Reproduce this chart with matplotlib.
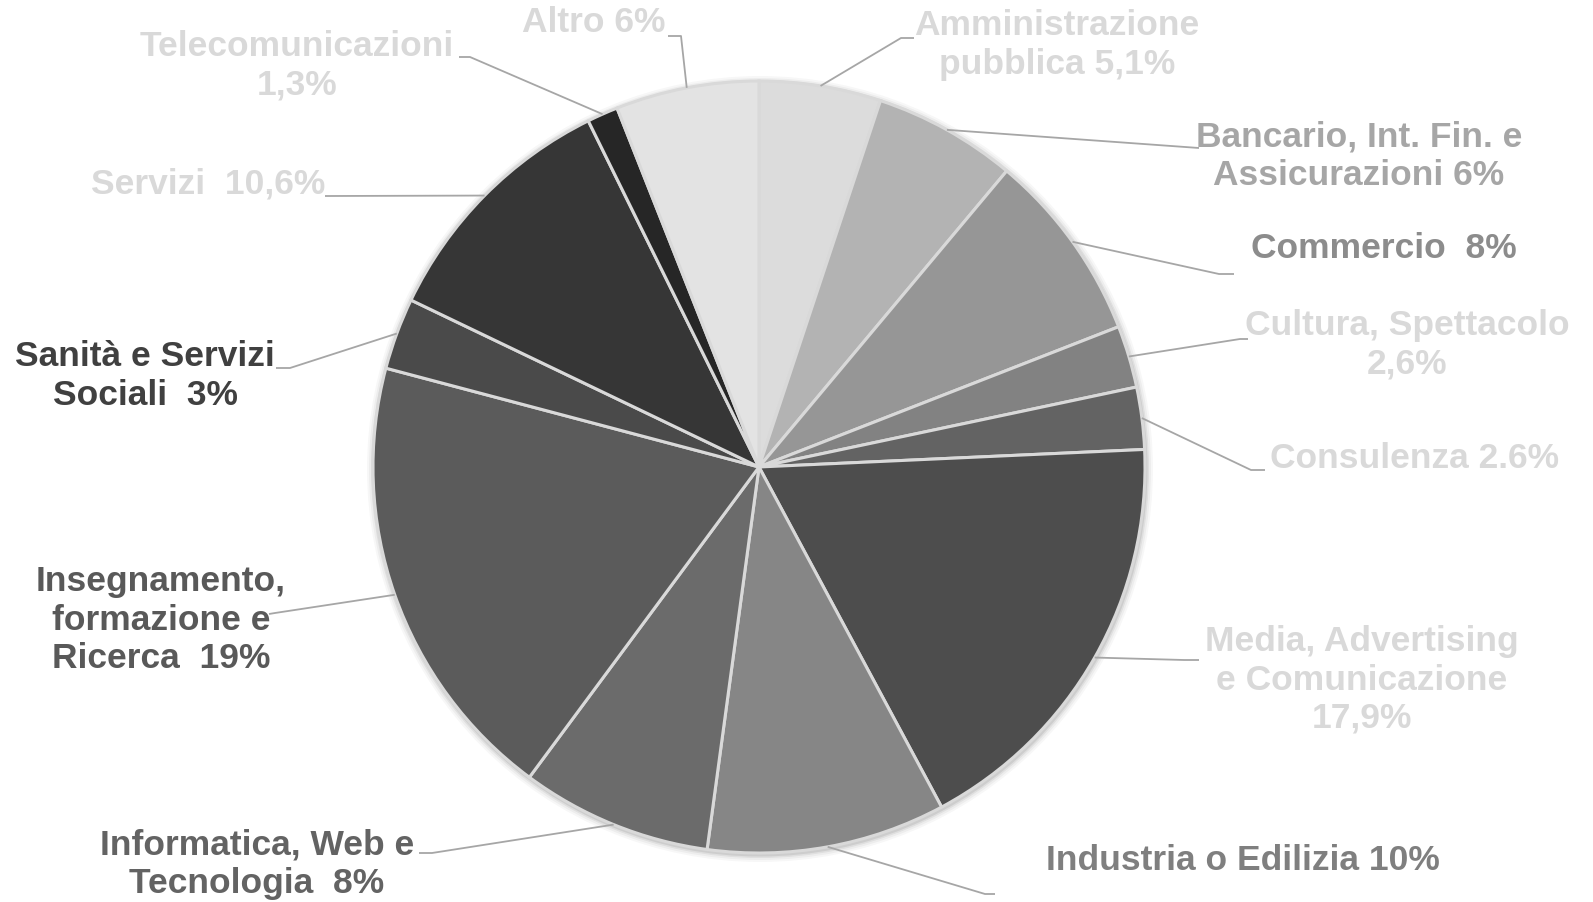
import numpy as np
import matplotlib
matplotlib.use('Agg')
import matplotlib.pyplot as plt
from matplotlib.patches import Circle

plt.rcParams['font.family'] = ['Liberation Sans', 'DejaVu Sans']

W, H = 1593, 902

# data, clockwise from 12 o'clock
labels = ['Amministrazione\npubblica 5,1%', 'Bancario, Int. Fin. e\nAssicurazioni 6%', 'Commercio  8%',
          'Cultura, Spettacolo\n2,6%', 'Consulenza 2.6%', 'Media, Advertising\ne Comunicazione\n17,9%',
          'Industria o Edilizia 10%', 'Informatica, Web e\nTecnologia  8%',
          'Insegnamento,\nformazione e\nRicerca  19%', 'Sanità e Servizi\nSociali  3%',
          'Servizi  10,6%', 'Telecomunicazioni\n1,3%', 'Altro 6%']
values = [5.1, 6, 8, 2.6, 2.6, 17.9, 10, 8, 19, 3, 10.6, 1.3, 6]
slice_colors = ['#dcdcdc', '#b3b3b3', '#969696', '#828282', '#636363', '#4d4d4d', '#868686',
                '#6b6b6b', '#5b5b5b', '#4a4a4a', '#363636', '#262626', '#e3e3e3']
label_colors = ['#d9d9d9', '#a6a6a6', '#8c8c8c', '#d9d9d9', '#d9d9d9', '#d9d9d9', '#7f7f7f',
                '#636363', '#595959', '#404040', '#d9d9d9', '#d9d9d9', '#d9d9d9']

# layout in pixels from top-left: text centre, elbow of leader, end of leader
text_pos = [(1057, 45), (1359, 156), (1384, 249), (1407, 345), (1414, 459), (1362, 680),
            (1243, 860), (257, 864), (161, 620), (145, 376), (208, 184), (297, 66), (594, 22)]
elbow = [(901, 38), (1199, 148), (1219, 274), (1240, 339), (1251, 470), (1184, 660),
         (985, 894), (432, 853), (275, 613), (290, 368), (330, 196), (470, 57), (681, 36)]
ends = [(914, 38), (1199, 148), (1234, 274), (1248, 339), (1265, 470), (1199, 660),
        (995, 894), (419, 853), (269, 614), (276, 368), (325, 196), (459, 57), (668, 36)]

CX, CY, R = 759, 467, 386

fig = plt.figure(figsize=(W / 100, H / 100), dpi=100)
ax = fig.add_axes([0, 0, 1, 1])

# soft shadow round the pie
for dr, a in [(7, 0.03), (5, 0.04), (3, 0.06), (1.5, 0.08)]:
    ax.add_patch(Circle((CX + 1, H - CY - 2), R + dr, color='black', alpha=a, lw=0, zorder=0))

wedges, _ = ax.pie(values, colors=slice_colors, startangle=90, counterclock=False,
                   center=(CX, H - CY), radius=R, frame=True,
                   wedgeprops=dict(edgecolor='#d9d9d9', linewidth=2.2))
ax.set_xlim(0, W)
ax.set_ylim(0, H)
ax.set_aspect('equal')
ax.axis('off')

for w, lab, col, tp, el, en in zip(wedges, labels, label_colors, text_pos, elbow, ends):
    mid = np.deg2rad((w.theta1 + w.theta2) / 2)
    sx = CX + R * np.cos(mid)
    sy = H - CY + R * np.sin(mid)
    ax.plot([sx, el[0], en[0]], [sy, H - el[1], H - en[1]], color='#a6a6a6', lw=1.3,
            solid_capstyle='butt', zorder=3)
    ax.text(tp[0], H - tp[1], lab, ha='center', va='center', color=col, fontsize=25.5,
            fontweight='bold', linespacing=1.2, zorder=4)

fig.savefig('out.png', dpi=100)
